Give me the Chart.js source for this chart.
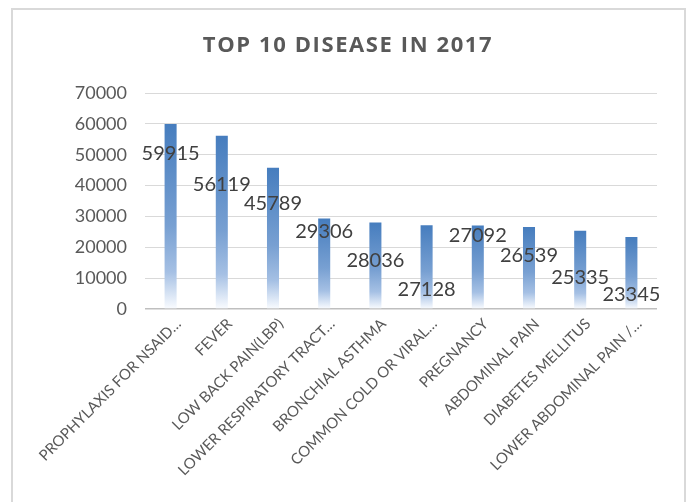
<!DOCTYPE html>
<html>
<head>
<meta charset="utf-8">
<script src="https://cdn.jsdelivr.net/npm/chart.js@4.4.1/dist/chart.umd.min.js"></script>
<style>
  html, body { margin: 0; padding: 0; background: #fff; }
  #frame { position: absolute; left: 11px; top: 8px; width: 671px; height: 520px;
           border: 2px solid #d9d9d9; border-bottom: none; }
  #wrap { position: absolute; left: 0; top: 0; width: 686px; height: 502px; }
</style>
</head>
<body>
<div id="frame"></div>
<div id="wrap"><canvas id="barChart" width="686" height="502"></canvas></div>
<script>
var chartTitle = 'TOP 10 DISEASE IN 2017';
var diseases = [
    'PROPHYLAXIS FOR NSAID\u2026',
    'FEVER',
    'LOW BACK PAIN(LBP)',
    'LOWER RESPIRATORY TRACT\u2026',
    'BRONCHIAL ASTHMA',
    'COMMON COLD OR VIRAL\u2026',
    'PREGNANCY',
    'ABDOMINAL PAIN',
    'DIABETES MELLITUS',
    'LOWER ABDOMINAL PAIN /\u2026'
];
var cases = [59915, 56119, 45789, 29306, 28036, 27128, 27092, 26539, 25335, 23345];
var yTicks = [0, 10000, 20000, 30000, 40000, 50000, 60000, 70000];

// labels sit staggered below the bar tops, like the original
var labelDrop = [29, 49, 36, 13, 38, 64, 10, 28, 47, 58];

function barFill(ctx) {
    var chart = ctx.chart;
    var area = chart.chartArea;
    if (!area || ctx.parsed === undefined) return '#4a7ebb';
    var top = chart.scales.y.getPixelForValue(ctx.parsed.y);
    var g = chart.ctx.createLinearGradient(0, top, 0, area.bottom);
    g.addColorStop(0, 'rgb(70,125,190)');
    g.addColorStop(0.55, 'rgb(120,160,210)');
    g.addColorStop(0.8, 'rgb(165,192,228)');
    g.addColorStop(1, 'rgb(250,252,255)');
    return g;
}

var valueLabels = {
    id: 'valueLabels',
    afterDatasetsDraw: function (chart) {
        var c = chart.ctx;
        var meta = chart.getDatasetMeta(0);
        c.save();
        c.font = '20px Lato, "Open Sans", sans-serif';
        c.fillStyle = '#404040';
        c.textAlign = 'center';
        c.textBaseline = 'middle';
        meta.data.forEach(function (bar, i) {
            c.fillText(String(cases[i]), bar.x, bar.y + labelDrop[i]);
        });
        c.restore();
    }
};

// title drawn by hand so it can get the wide letter spacing of the original
var spacedTitle = {
    id: 'spacedTitle',
    afterDraw: function (chart) {
        var c = chart.ctx;
        c.save();
        c.font = 'bold 22px "Open Sans", Lato, sans-serif';
        c.letterSpacing = '1.6px';
        c.fillStyle = '#595959';
        c.textAlign = 'center';
        c.textBaseline = 'middle';
        c.fillText(chartTitle, 348, 46);
        c.restore();
    }
};

var barChart = new Chart("barChart", {
    type: 'bar',
    data: {
        labels: diseases,
        datasets: [{
            label: 'Cases',
            data: cases,
            backgroundColor: barFill,
            borderWidth: 0,
            barPercentage: 0.47,
            categoryPercentage: 0.5
        }]
    },
    plugins: [valueLabels, spacedTitle],
    options: {
        responsive: false,
        animation: false,
        devicePixelRatio: 1,
        layout: {
            padding: { left: 20, right: 29, top: 93, bottom: 0 }
        },
        scales: {
            y: {
                min: 0,
                max: 70000,
                afterBuildTicks: function (axis) {
                    axis.ticks = yTicks.map(function (v) { return { value: v }; });
                },
                afterFit: function (axis) { axis.width = 125; },
                ticks: {
                    color: '#595959',
                    padding: 18,
                    callback: function (v) { return String(v); },
                    font: { family: 'Lato, "Open Sans", sans-serif', size: 18 }
                },
                grid: {
                    color: function (ctx) { return ctx.tick.value === 0 ? '#bfbfbf' : '#d9d9d9'; },
                    lineWidth: function (ctx) { return ctx.tick.value === 0 ? 1.5 : 1; },
                    drawTicks: false
                },
                border: { display: false }
            },
            x: {
                afterFit: function (axis) { axis.height = 193; },
                ticks: {
                    color: '#595959',
                    minRotation: 45,
                    maxRotation: 45,
                    autoSkip: false,
                    padding: 6,
                    labelOffset: 8,
                    font: { family: 'Lato, "Open Sans", sans-serif', size: 15 }
                },
                grid: { display: false, drawTicks: false },
                border: { display: false }
            }
        },
        plugins: {
            legend: { display: false },
            tooltip: { enabled: false },
            title: { display: false }
        }
    }
});
</script>
</body>
</html>
